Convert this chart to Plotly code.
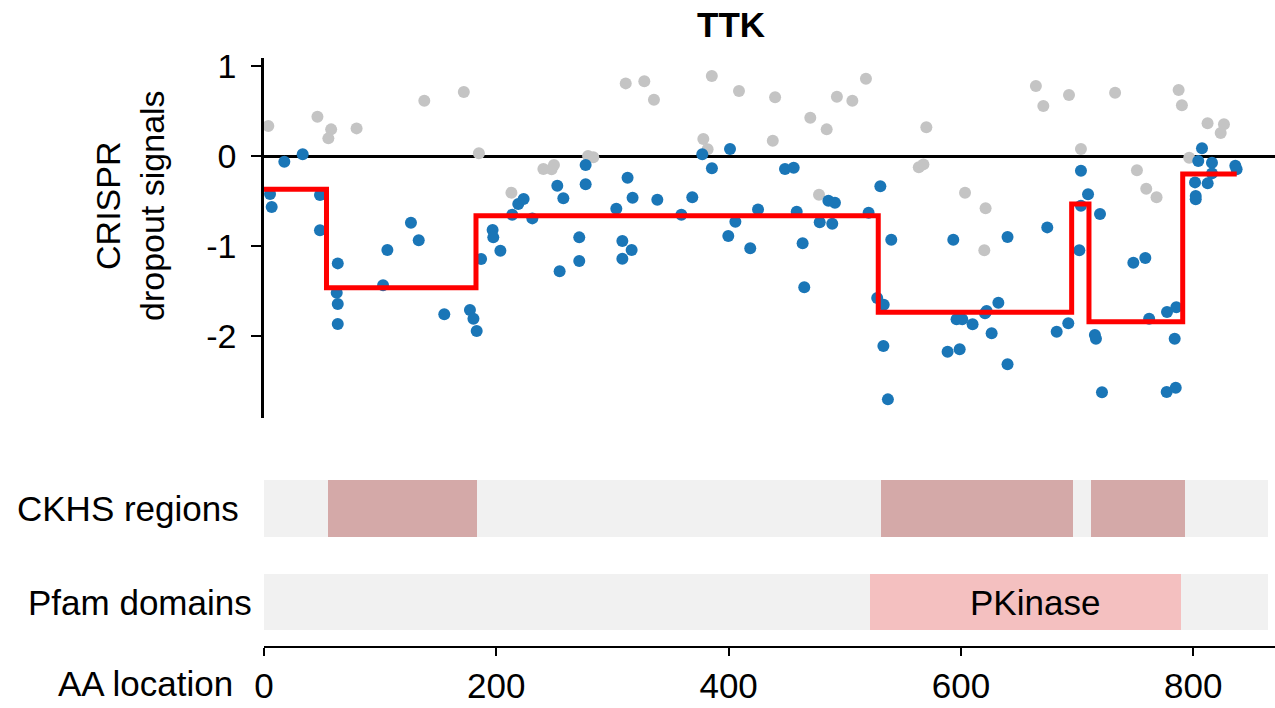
import plotly.graph_objects as go

W, H = 1275, 708

# ---------------- data ----------------
gene = "TTK"
protein_len = 864

gray_aa = [3.7, 46, 57.8, 55.4, 79.7, 138, 172, 185, 213, 240.5, 247.6, 249.6, 279, 283.5,
           311.4, 327.4, 335.7, 385.5, 408.9, 440, 438, 378.2, 381.9, 470.3, 484.4, 493.2,
           506.5, 518.2, 570.2, 563.7, 567.7, 477.8, 664.5, 670.9, 693, 732.7, 703.3, 603.5,
           621.2, 620.1, 787.4, 790.2, 812.3, 826.4, 823.6, 751.5, 759.5, 768.4, 796.5]
gray_val = [0.333, 0.437, 0.296, 0.196, 0.307, 0.615, 0.711, 0.030, -0.407, -0.144, -0.148,
            -0.100, 0.0, -0.015, 0.807, 0.830, 0.626, 0.889, 0.722, 0.652, 0.170, 0.189, 0.074,
            0.426, 0.296, 0.659, 0.615, 0.859, 0.319, -0.126, -0.093, -0.430, 0.778, 0.556,
            0.678, 0.704, 0.078, -0.407, -0.581, -1.048, 0.733, 0.563, 0.363, 0.352, 0.256,
            -0.159, -0.363, -0.459, -0.019]

blue_aa = [17.5, 33.3, 5.2, 6.6, 48.2, 48.2, 63.5, 62.6, 63.5, 63.5, 106.2, 102.5, 126.5, 133.2,
           155.2, 177.3, 180.3, 183.1, 186.9, 196.8, 197.4, 203.5, 213.7, 218.9, 223.5, 231,
           252.5, 257.7, 254.5, 271.4, 271.4, 276.9, 276.9, 313, 317.3, 303.3, 308.5, 316.5,
           308.5, 338.6, 359.3, 368.7, 377.3, 385.6, 401.2, 425.3, 405.8, 399.7, 418.6, 448.5,
           456, 458.6, 463.7, 465.1, 478.4, 485.9, 491.5, 489.2, 520.5, 530.6, 540, 527.9,
           533.5, 533.2, 537.1, 588.5, 593.4, 640.1, 674.3, 703.3, 709.4, 703.3, 719.7, 701.9,
           598.9, 596.2, 601.1, 610, 620.7, 622.1, 632.2, 626.4, 640.1, 682.4, 692.4, 715.3,
           716.2, 721.4, 748.4, 758.7, 762, 777.4, 785.4, 784, 777.1, 784.9, 807.5, 804.3,
           816.1, 816.1, 801.5, 812.4, 802.1, 802.1, 836.2, 837.3]
blue_val = [-0.063, 0.019, -0.422, -0.567, -0.433, -0.826, -1.193, -1.519, -1.644, -1.867,
            -1.044, -1.437, -0.741, -0.937, -1.759, -1.711, -1.807, -1.944, -1.144, -0.822,
            -0.904, -1.052, -0.652, -0.533, -0.478, -0.693, -0.330, -0.470, -1.281, -0.904,
            -1.167, -0.100, -0.315, -0.241, -0.463, -0.585, -0.944, -1.044, -1.141, -0.485,
            -0.652, -0.459, 0.019, -0.137, 0.078, -0.593, -0.730, -0.889, -1.026, -0.144,
            -0.130, -0.619, -0.970, -1.459, -0.737, -0.496, -0.519, -0.752, -0.630, -0.337,
            -0.930, -1.578, -1.652, -2.111, -2.704, -2.174, -0.930, -0.900, -0.793, -0.163,
            -0.426, -0.552, -0.644, -1.048, -2.148, -1.815, -1.815, -1.870, -1.748, -1.722,
            -1.630, -1.970, -2.315, -1.952, -1.859, -1.989, -2.030, -2.626, -1.185, -1.133,
            -1.807, -1.733, -1.681, -2.030, -2.622, -2.574, 0.085, -0.056, -0.074, -0.193,
            -0.293, -0.304, -0.444, -0.481, -0.107, -0.148]

seg_start = [0, 53.8, 182.5, 528.8, 695.3, 710.2, 790.9, 837.4]
seg_level = [-0.370, -1.463, -0.663, -1.735, -0.533, -1.841, -0.200, -0.200]

ckhs_start = [54.8, 531, 711.9]
ckhs_end = [183.4, 696.3, 792.5]

pfam_name = ["PKinase"]
pfam_start = [521.7]
pfam_end = [789]

x_ticks = [0, 200, 400, 600, 800]
y_ticks = [1, 0, -1, -2]

# ---------------- style ----------------
FONT = "Liberation Sans, Arial, Helvetica, sans-serif"
BLUE = "#1a76b7"
GRAY = "#c4c4c4"
RED = "#ff0000"
BG = "#f1f1f1"
CKHS_C = "#d4a9a8"
PFAM_C = "#f4c0c0"
FS = 35
TFS = 34


def px_x(p):
    return p / W


def px_y(p):
    return 1 - p / H


fig = go.Figure()

fig.add_trace(go.Scatter(x=gray_aa, y=gray_val, mode="markers",
                         marker=dict(color=GRAY, size=12, line=dict(width=0)),
                         xaxis="x", yaxis="y", hoverinfo="skip"))
fig.add_trace(go.Scatter(x=blue_aa, y=blue_val, mode="markers",
                         marker=dict(color=BLUE, size=12, line=dict(width=0)),
                         xaxis="x", yaxis="y", hoverinfo="skip"))
fig.add_trace(go.Scatter(x=seg_start, y=seg_level, mode="lines",
                         line=dict(color=RED, width=5, shape="hv"),
                         xaxis="x", yaxis="y", hoverinfo="skip"))

# CKHS track
fig.add_trace(go.Bar(orientation="h", y=[0], base=[0], x=[protein_len], width=1,
                     marker=dict(color=BG, line=dict(width=0)), xaxis="x", yaxis="y2",
                     hoverinfo="skip"))
fig.add_trace(go.Bar(orientation="h", y=[0] * len(ckhs_start), base=ckhs_start,
                     x=[e - s for s, e in zip(ckhs_start, ckhs_end)], width=1,
                     marker=dict(color=CKHS_C, line=dict(width=0)), xaxis="x", yaxis="y2",
                     hoverinfo="skip"))
# Pfam track
fig.add_trace(go.Bar(orientation="h", y=[0], base=[0], x=[protein_len], width=1,
                     marker=dict(color=BG, line=dict(width=0)), xaxis="x", yaxis="y3",
                     hoverinfo="skip"))
fig.add_trace(go.Bar(orientation="h", y=[0] * len(pfam_start), base=pfam_start,
                     x=[e - s for s, e in zip(pfam_start, pfam_end)], width=1,
                     marker=dict(color=PFAM_C, line=dict(width=0)), xaxis="x", yaxis="y3",
                     hoverinfo="skip"))

annotations = []
for n, s, e in zip(pfam_name, pfam_start, pfam_end):
    annotations.append(dict(x=(s + e) / 2 + 8, y=0, xref="x", yref="y3", text=n,
                            xanchor="center", yanchor="middle",
                            showarrow=False, font=dict(size=FS, color="black", family=FONT)))

annotations += [
    dict(x=px_x(731), y=px_y(25), xref="paper", yref="paper", text="<b>%s</b>" % gene,
         xanchor="center", yanchor="middle",
         showarrow=False, font=dict(size=FS, color="black", family=FONT)),
    dict(x=px_x(130), y=px_y(206), xref="paper", yref="paper",
         text="CRISPR<br>dropout signals", textangle=-90, showarrow=False,
         xanchor="center", yanchor="middle",
         font=dict(size=TFS, color="black", family=FONT)),
    dict(x=px_x(241), y=px_y(508), xref="paper", yref="paper", text="CKHS regions",
         xanchor="right", yanchor="middle", showarrow=False,
         font=dict(size=FS, color="black", family=FONT)),
    dict(x=px_x(254), y=px_y(602), xref="paper", yref="paper", text="Pfam domains",
         xanchor="right", yanchor="middle", showarrow=False,
         font=dict(size=FS, color="black", family=FONT)),
    dict(x=px_x(235), y=px_y(683), xref="paper", yref="paper", text="AA location",
         xanchor="right", yanchor="middle", showarrow=False,
         font=dict(size=FS, color="black", family=FONT)),
]

fig.update_layout(
    width=W, height=H,
    margin=dict(l=0, r=0, t=0, b=0, pad=0),
    paper_bgcolor="white", plot_bgcolor="white",
    showlegend=False, barmode="overlay", bargap=0,
    font=dict(family=FONT, color="black", size=FS),
    annotations=annotations,
    xaxis=dict(domain=[px_x(264), 1.0], range=[0, 1011 / 1.1616], anchor="free",
               position=px_y(647), showline=True, linecolor="black", linewidth=2,
               ticks="outside", ticklen=8, tickwidth=2, tickcolor="black",
               tickvals=x_ticks, ticktext=[str(v) for v in x_ticks], automargin=False,
               tickfont=dict(size=FS, family=FONT), showgrid=False, zeroline=False),
    yaxis=dict(domain=[px_y(418), px_y(58)], range=[-2.911, 1.089], anchor="x",
               showline=True, linecolor="black", linewidth=2.5, automargin=False,
               ticks="outside", ticklen=10, tickwidth=2, tickcolor="black",
               tickvals=y_ticks, ticktext=[str(v) for v in y_ticks],
               tickfont=dict(size=TFS, family=FONT), ticklabelstandoff=8,
               showgrid=False, zeroline=True, zerolinecolor="black", zerolinewidth=2.5),
    yaxis2=dict(domain=[px_y(537), px_y(480)], range=[-0.5, 0.5], anchor="x",
                automargin=False,
                showticklabels=False, showgrid=False, zeroline=False, showline=False),
    yaxis3=dict(domain=[px_y(630), px_y(574)], range=[-0.5, 0.5], anchor="x",
                automargin=False,
                showticklabels=False, showgrid=False, zeroline=False, showline=False),
)

fig.write_html("out.html")
